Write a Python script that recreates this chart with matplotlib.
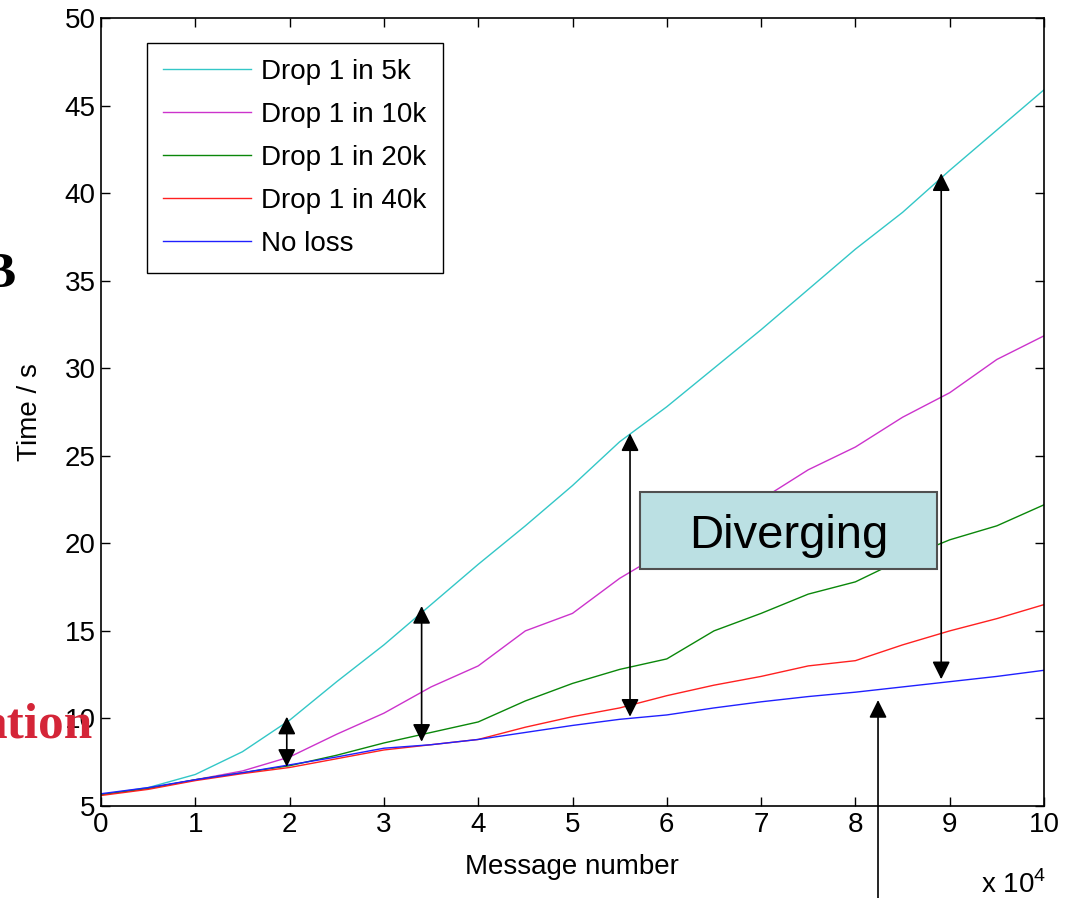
import numpy as np
import matplotlib
matplotlib.use('Agg')
import matplotlib.pyplot as plt
from matplotlib.patches import Rectangle

plt.rcParams['font.family'] = ['Liberation Sans', 'DejaVu Sans']
plt.rcParams['mathtext.fontset'] = 'custom'
plt.rcParams['mathtext.rm'] = 'Liberation Sans'

# message number in units of 10^4
msg = [0, 0.5, 1, 1.5, 2, 2.5, 3, 3.5, 4, 4.5, 5, 5.5, 6, 6.5, 7, 7.5, 8, 8.5, 9, 9.5, 10]

drop5k = [5.65, 6.05, 6.8, 8.1, 9.9, 12.1, 14.2, 16.5, 18.8, 21.0, 23.3, 25.8, 27.8, 30.0, 32.2, 34.5, 36.8, 38.9, 41.3, 43.6, 45.9]
drop10k = [5.65, 6.0, 6.5, 7.0, 7.8, 9.1, 10.3, 11.8, 13.0, 15.0, 16.0, 18.0, 19.6, 21.0, 22.5, 24.2, 25.5, 27.2, 28.6, 30.5, 31.85]
drop20k = [5.65, 6.0, 6.5, 6.9, 7.3, 7.9, 8.6, 9.2, 9.8, 11.0, 12.0, 12.8, 13.4, 15.0, 16.0, 17.1, 17.8, 19.1, 20.2, 21.0, 22.2]
drop40k = [5.6, 5.95, 6.45, 6.85, 7.2, 7.7, 8.2, 8.5, 8.8, 9.5, 10.1, 10.6, 11.3, 11.9, 12.4, 13.0, 13.3, 14.2, 15.0, 15.7, 16.5]
noloss = [5.7, 6.05, 6.5, 6.9, 7.35, 7.8, 8.3, 8.5, 8.8, 9.2, 9.6, 9.95, 10.2, 10.6, 10.95, 11.25, 11.5, 11.8, 12.1, 12.4, 12.75]

series = [drop5k, drop10k, drop20k, drop40k, noloss]
labels = ['Drop 1 in 5k', 'Drop 1 in 10k', 'Drop 1 in 20k', 'Drop 1 in 40k', 'No loss']
colors = ['#33c7c7', '#cc33cc', '#0a870a', '#ff2020', '#2020ff']

# double arrows: x, bottom, top
gaps = [(1.97, 7.24, 10.1), (3.40, 8.67, 16.42), (5.61, 10.1, 26.28), (8.91, 12.24, 41.13)]

W, H = 1072, 898
fig = plt.figure(figsize=(W/100, H/100), dpi=100)
ax = fig.add_axes([101/W, 1-806/H, 943/W, 788/H])

for y, lab, c in zip(series, labels, colors):
    ax.plot(msg, y, color=c, lw=1.0, label=lab)

ax.set_xlim(0, 10)
ax.set_ylim(5, 50)
ax.set_xticks(range(0, 11))
ax.set_yticks(range(5, 51, 5))
ax.tick_params(direction='in', length=6.5, width=1, labelsize=20, top=True, right=True, pad=4)
for s in ax.spines.values():
    s.set_linewidth(1.2)

leg = ax.legend(loc='upper left', bbox_to_anchor=((147-101)/943, (806-43)/788), borderaxespad=0,
                fontsize=20, handlelength=3.17, handletextpad=0.36, labelspacing=0.61,
                borderpad=0.58, fancybox=False, framealpha=1)
leg.get_frame().set_edgecolor('black')
leg.get_frame().set_linewidth(1.0)

style = 'head_length=0.6,head_width=0.3'
for x, lo, hi in gaps:
    ax.annotate('', xy=(x, hi), xytext=(x, lo),
                arrowprops=dict(arrowstyle='<|-|>,' + style, mutation_scale=18, lw=1.2,
                                color='black', shrinkA=0, shrinkB=0), zorder=7)

ax.annotate('', xy=(8.24, 11.05), xytext=(878, 0), textcoords='figure pixels',
            arrowprops=dict(arrowstyle='-|>,' + style, mutation_scale=18, lw=1.2,
                            color='black', shrinkA=0, shrinkB=0), zorder=7)

ax.add_patch(Rectangle((5.716, 18.52), 8.862-5.716, 22.95-18.52, facecolor='#bbe0e3',
                       edgecolor='#505050', lw=1.5, zorder=5))
ax.text(7.29, 19.73, 'Diverging', fontsize=34, ha='center', va='baseline', zorder=6)

fig.text(30/W, 1-412/H, 'Time / s', rotation=90, ha='center', va='center', fontsize=20)
fig.text(572/W, 1-867/H, 'Message number', ha='center', va='center', fontsize=20)
fig.text(1046/W, 1-893/H, r'x 10$^{4}$', ha='right', va='baseline', fontsize=20)

fig.text(15/W, 1-287/H, 'B', ha='right', va='baseline', fontsize=37,
         family='Liberation Serif', weight='bold', color='black', zorder=0)
fig.text(93/W, 1-737/H, 'ation', ha='right', va='baseline', fontsize=37,
         family='Liberation Serif', weight='bold', color='#d42538', zorder=0)

fig.savefig('out.png', dpi=100)
